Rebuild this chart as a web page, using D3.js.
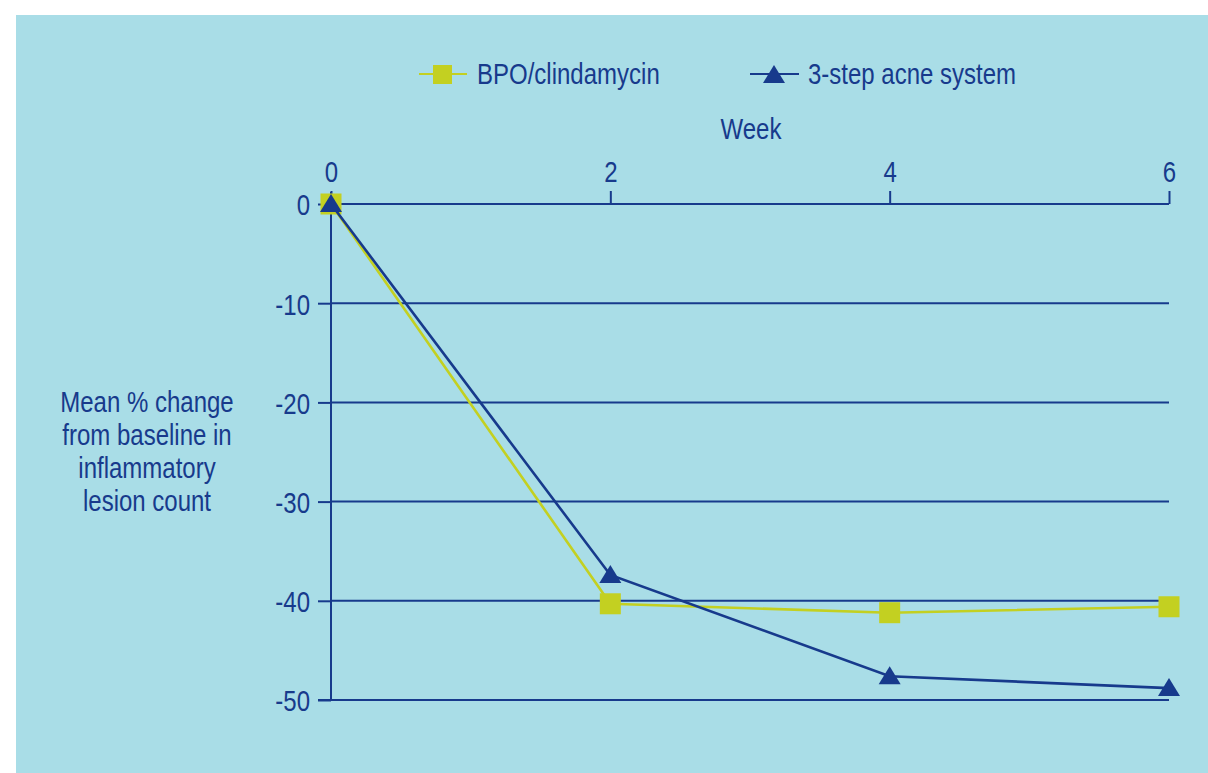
<!DOCTYPE html>
<html>
<head>
<meta charset="utf-8">
<script src="https://cdn.jsdelivr.net/npm/d3@7"></script>
<style>
  html, body { margin: 0; padding: 0; background: #ffffff; }
  svg { display: block; }
  text { font-family: "Liberation Sans", Arial, sans-serif; fill: #173a8c; }
</style>
</head>
<body>
<script>
// Weeks on the horizontal axis and tick values on the vertical axis
const weeks = [0, 2, 4, 6];
const yTicks = [0, -10, -20, -30, -40, -50];

// Mean % change from baseline in inflammatory lesion count
const bpoClindamycin = [0, -40.3, -41.2, -40.6];
const threeStepSystem = [0, -37.4, -47.6, -48.8];

const seriesNames = ["BPO/clindamycin", "3-step acne system"];
const yLabelLines = ["Mean % change", "from baseline in", "inflammatory", "lesion count"];

const W = 1208, H = 773;
const navy = "#173a8c", lime = "#c3d021", panel = "#a9dde7";
const FS = 30;          // text size
const NARROW = 0.80;    // horizontal squeeze for a condensed look

const svg = d3.select("body").append("svg").attr("width", W).attr("height", H);

svg.append("rect").attr("x", 16).attr("y", 15).attr("width", W - 16).attr("height", H - 15).attr("fill", panel);

const x = d3.scaleLinear().domain([0, 6]).range([331, 1169]);
const y = d3.scaleLinear().domain([0, -50]).range([204, 700]);

// horizontal gridlines below zero
svg.append("g").selectAll("line").data(yTicks.filter(d => d !== 0)).join("line")
  .attr("x1", d => d === -50 ? 318 : 331).attr("x2", 1169)
  .attr("y1", d => y(d)).attr("y2", d => y(d))
  .attr("stroke", navy).attr("stroke-width", 2);

const fmt = d => String(d);

// top axis (weeks) along the zero line
const xAxis = d3.axisTop(x).tickValues(weeks).tickSize(13).tickPadding(9).tickFormat(fmt);
const gx = svg.append("g").attr("transform", `translate(0,${y(0)})`).call(xAxis);
gx.attr("font-family", null).attr("font-size", null);
gx.select(".domain").attr("stroke", navy).attr("stroke-width", 2).attr("d", `M${x(0)},0H${x(6)}`);
gx.selectAll(".tick line").attr("stroke", navy).attr("stroke-width", 2);
gx.selectAll(".tick text").attr("font-size", FS).attr("fill", navy);

// left axis
const yAxis = d3.axisLeft(y).tickValues(yTicks).tickSize(13).tickPadding(8).tickFormat(fmt);
const gy = svg.append("g").attr("transform", `translate(${x(0)},0)`).call(yAxis);
gy.attr("font-family", null).attr("font-size", null);
gy.select(".domain").attr("stroke", navy).attr("stroke-width", 2).attr("d", `M0,${y(0) - 12}V${y(-50)}`);
gy.selectAll(".tick line").attr("stroke", navy).attr("stroke-width", 2);
gy.selectAll(".tick text").attr("font-size", FS).attr("fill", navy).attr("dy", "0.36em");

// axis titles
svg.append("text").attr("x", 751).attr("y", 139).attr("text-anchor", "middle").attr("font-size", FS).text("Week");
svg.append("g").selectAll("text").data(yLabelLines).join("text")
  .attr("text-anchor", "middle").attr("font-size", FS)
  .attr("x", 147).attr("y", (d, i) => 412 + i * 33).text(d => d);

// data lines and markers
const line = d3.line().x((d, i) => x(weeks[i])).y(d => y(d));
const tri = "M0,-10L11,8L-11,8Z";

svg.append("path").datum(bpoClindamycin).attr("d", line).attr("fill", "none").attr("stroke", lime).attr("stroke-width", 2.6);
svg.append("g").selectAll("rect").data(bpoClindamycin).join("rect")
  .attr("x", (d, i) => x(weeks[i]) - 10.5).attr("y", d => y(d) - 10.5)
  .attr("width", 21).attr("height", 21).attr("fill", lime);

svg.append("path").datum(threeStepSystem).attr("d", line).attr("fill", "none").attr("stroke", navy).attr("stroke-width", 2.6);
svg.append("g").selectAll("path").data(threeStepSystem).join("path")
  .attr("transform", (d, i) => `translate(${x(weeks[i])},${y(d)})`)
  .attr("d", tri).attr("fill", navy);

// legend
const lg = svg.append("g");
lg.append("line").attr("x1", 419).attr("x2", 467).attr("y1", 74).attr("y2", 74).attr("stroke", lime).attr("stroke-width", 2);
lg.append("rect").attr("x", 433).attr("y", 65).attr("width", 19).attr("height", 19).attr("fill", lime);
lg.append("text").attr("x", 477).attr("y", 84).attr("font-size", FS).text(seriesNames[0]);
lg.append("line").attr("x1", 750).attr("x2", 799).attr("y1", 74).attr("y2", 74).attr("stroke", navy).attr("stroke-width", 2);
lg.append("path").attr("transform", "translate(774,75)").attr("d", tri).attr("fill", navy);
lg.append("text").attr("x", 808).attr("y", 84).attr("font-size", FS).text(seriesNames[1]);

// squeeze every label horizontally to a condensed width
svg.selectAll("text").each(function () {
  const len = this.getComputedTextLength();
  d3.select(this).attr("textLength", len * NARROW).attr("lengthAdjust", "spacingAndGlyphs");
});
</script>
</body>
</html>
